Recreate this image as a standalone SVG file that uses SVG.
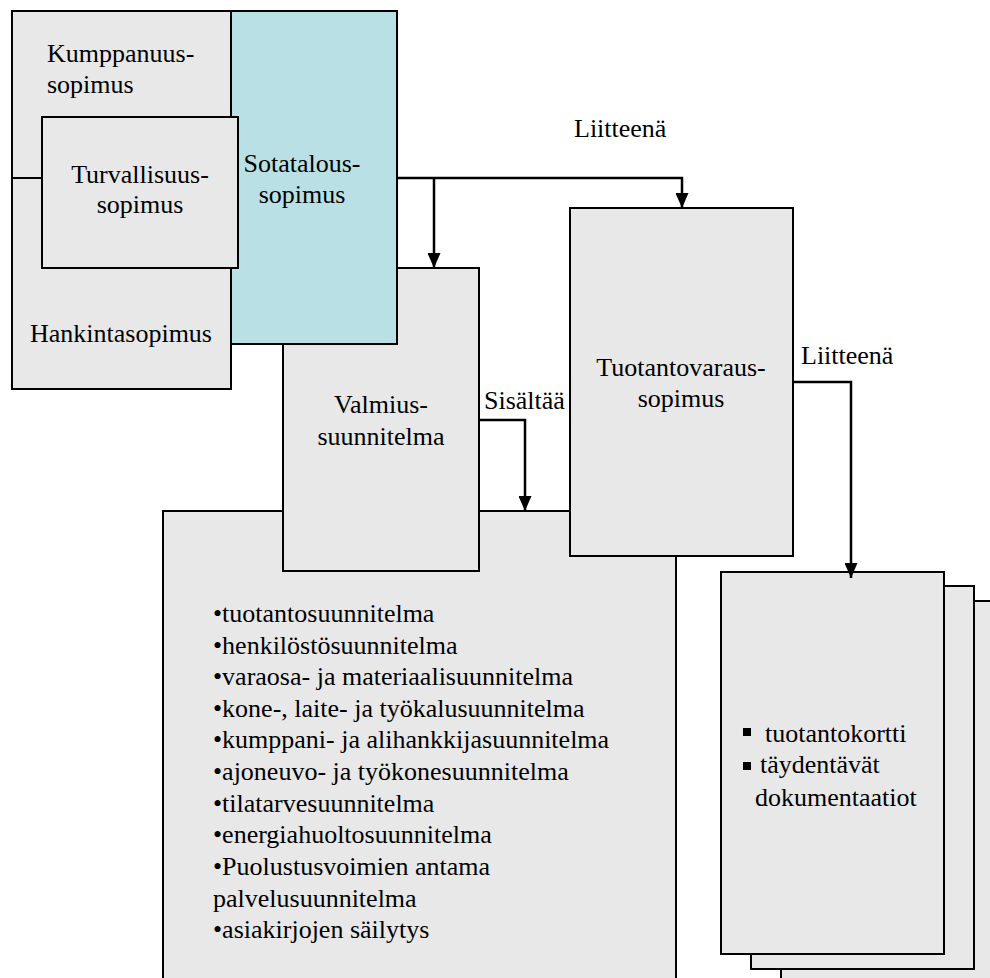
<svg xmlns="http://www.w3.org/2000/svg" width="990" height="978" viewBox="0 0 990 978">
<style>
.box{fill:#e8e8e8;stroke:#000;stroke-width:2}
.teal{fill:#b9e0e4;stroke:#000;stroke-width:2}
text{font-family:"Liberation Serif","Times New Roman",serif;font-size:26px;fill:#000}
.c{text-anchor:middle}
.con{fill:none;stroke:#000;stroke-width:2.5}
</style>
<defs>
<marker id="arr" markerWidth="15" markerHeight="13" refX="15" refY="6.5" orient="auto" markerUnits="userSpaceOnUse" viewBox="0 0 15 13">
<path d="M0,0 L15,6.5 L0,13 Z" fill="#000"/>
</marker>
</defs>
<rect width="990" height="978" fill="#fff"/>

<g id="list">
<rect class="box" x="163" y="511" width="513" height="490"/>
<text x="213" y="622">•tuotantosuunnitelma</text>
<text x="213" y="654">•henkilöstösuunnitelma</text>
<text x="213" y="685">•varaosa- ja materiaalisuunnitelma</text>
<text x="213" y="717">•kone-, laite- ja työkalusuunnitelma</text>
<text x="213" y="748">•kumppani- ja alihankkijasuunnitelma</text>
<text x="213" y="780">•ajoneuvo- ja työkonesuunnitelma</text>
<text x="213" y="812">•tilatarvesuunnitelma</text>
<text x="213" y="843">•energiahuoltosuunnitelma</text>
<text x="213" y="875">•Puolustusvoimien antama</text>
<text x="213" y="907">palvelusuunnitelma</text>
<text x="213" y="938">•asiakirjojen säilytys</text>
</g>

<g id="valmius">
<rect class="box" x="283" y="268" width="196" height="303"/>
<text class="c" x="381" y="413">Valmius-</text>
<text class="c" x="381" y="445">suunnitelma</text>
</g>

<g id="kumppanuus-hankinta">
<rect class="box" x="12" y="11" width="219" height="378"/>
<line x1="12" y1="178" x2="42" y2="178" stroke="#000" stroke-width="2"/>
<text x="47" y="62">Kumppanuus-</text>
<text x="47" y="93">sopimus</text>
<text class="c" x="121" y="342">Hankintasopimus</text>
</g>

<g id="sotatalous">
<rect class="teal" x="231" y="11" width="166" height="333"/>
<text class="c" x="302" y="172">Sotatalous-</text>
<text class="c" x="302" y="203">sopimus</text>
</g>

<g id="turvallisuus">
<rect class="box" x="42" y="117" width="196" height="151"/>
<text class="c" x="140" y="183">Turvallisuus-</text>
<text class="c" x="140" y="213">sopimus</text>
</g>

<g id="tuotantovaraus">
<rect class="box" x="570" y="208" width="223" height="348"/>
<text class="c" x="681" y="376">Tuotantovaraus-</text>
<text class="c" x="681" y="407">sopimus</text>
</g>

<g id="pages">
<rect class="box" x="781" y="601" width="230" height="400"/>
<rect class="box" x="751" y="586" width="223" height="383"/>
<rect class="box" x="721" y="572" width="223" height="382"/>
<rect x="743" y="728" width="8" height="8" fill="#000"/>
<text x="765" y="742">tuotantokortti</text>
<rect x="743" y="762" width="8" height="8" fill="#000"/>
<text x="760" y="773">täydentävät</text>
<text x="755" y="806">dokumentaatiot</text>
</g>

<g id="connectors">
<polyline class="con" points="397,178 682,178 682,208" marker-end="url(#arr)"/>
<polyline class="con" points="434,178 434,268" marker-end="url(#arr)"/>
<polyline class="con" points="479,420 525,420 525,511" marker-end="url(#arr)"/>
<polyline class="con" points="793,382 851,382 851,578" marker-end="url(#arr)"/>
<text x="574" y="137">Liitteenä</text>
<text x="484" y="409">Sisältää</text>
<text x="801" y="364">Liitteenä</text>
</g>
</svg>
